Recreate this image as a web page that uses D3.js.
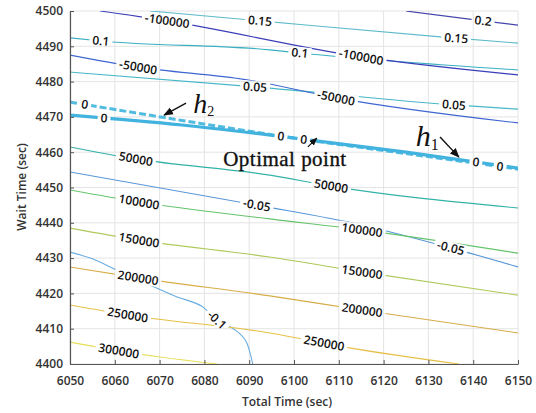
<!DOCTYPE html>
<html>
<head>
<meta charset="utf-8">
<script src="https://cdn.jsdelivr.net/npm/d3@7"></script>
<style>
body { margin: 0; background: #fff; }
</style>
</head>
<body>
<svg id="chart" width="536" height="413"></svg>
<script>
var xTicks = [6050, 6060, 6070, 6080, 6090, 6100, 6110, 6120, 6130, 6140, 6150];
var yTicks = [4400, 4410, 4420, 4430, 4440, 4450, 4460, 4470, 4480, 4490, 4500];

// h1 contours (wait time constraint)
var h1Levels = ["-100000", "-50000", "0", "50000", "100000", "150000", "200000", "250000", "300000"];
var h1Lines = [
  [[6056.7, 4500], [6071.7, 4497.2], [6115.0, 4487.0], [6150, 4481.9]],
  [[6050, 4487.5], [6065.2, 4484.1], [6089.5, 4480.5], [6109.4, 4475.4], [6150, 4468.3]],
  [[6050, 4470.5], [6075, 4467.7], [6097, 4464.5], [6125, 4460.0], [6150, 4455.5]],
  [[6050, 4461.5], [6064.7, 4458.1], [6094.6, 4453.5], [6108.3, 4450.4], [6150, 4444.2]],
  [[6050, 4449.3], [6065.4, 4445.9], [6094.6, 4441.1], [6115.0, 4438.0], [6150, 4431.4]],
  [[6050, 4438.5], [6065.4, 4435.1], [6094.6, 4430.3], [6115.0, 4426.1], [6150, 4419.5]],
  [[6050, 4427.5], [6065.2, 4424.4], [6094.6, 4419.3], [6115.0, 4415.3], [6150, 4408.8]],
  [[6050, 4416.7], [6062.9, 4413.9], [6094.6, 4408.8], [6112.7, 4404.5], [6136.8, 4400]],
  [[6050, 4406.2], [6060.9, 4403.7], [6082.8, 4400]]
];
var h1LabelX = [[6071.7, 6115.0], [6065.2, 6109.4], [6057.6, 6097.1, 6140.6], [6064.7, 6108.3],
  [6065.4, 6115.2], [6065.4, 6115.2], [6065.2, 6115.2], [6062.9, 6106.7], [6060.9]];

// h2 contours
var h2Levels = ["0.2", "0.15", "0.1", "0.05", "0", "-0.05", "-0.1"];
var h2Lines = [
  [[6125, 4500], [6142.2, 4497.2], [6150, 4496.0]],
  [[6067.9, 4500], [6092.4, 4497.2], [6133.3, 4492.6], [6150, 4490.9]],
  [[6050, 4492.4], [6056.9, 4491.5], [6094.6, 4489.0], [6101.3, 4488.1], [6150, 4483.3]],
  [[6050, 4482.7], [6091.3, 4478.5], [6135.7, 4473.4], [6150, 4472.2]],
  [[6050, 4474.2], [6075, 4469.0], [6100, 4464.0], [6125, 4459.6], [6150, 4455.2]],
  [[6050, 4454.4], [6091.7, 4445.0], [6115.0, 4439.4], [6135.0, 4432.9], [6150, 4427.5]],
  [[6050, 4431.7], [6054.5, 4430.0], [6060.5, 4426.6], [6073.9, 4419.0], [6079.7, 4416.1],
   [6082.8, 4412.5], [6086.2, 4410.2], [6089.5, 4405.9], [6090.8, 4400]]
];
var h2LabelX = [[6142.2], [6092.4, 6136.2], [6056.9, 6101.3], [6091.3, 6135.7],
  [6053.3, 6102.2, 6146.0], [6091.7, 6135.0], [6082.8]];

var h1Colors = ["#3a3db8", "#3e66d0", "#42b2de", "#33b2a8", "#66c46c", "#afc95a", "#d8ad48", "#e6c046", "#e6df58"];
var h2Colors = ["#4444aa", "#5ebbcb", "#3aafc2", "#46b7c8", "#52bce0", "#5796d8", "#68ade2"];

var svg = d3.select("#chart");
var x = d3.scaleLinear().domain([6050, 6150]).range([70, 518]);
var y = d3.scaleLinear().domain([4400, 4500]).range([364, 11]);

var defs = svg.append("defs");
defs.append("clipPath").attr("id", "plot")
  .append("rect").attr("x", x(6050)).attr("y", y(4500))
  .attr("width", x(6150) - x(6050)).attr("height", y(4400) - y(4500));

defs.append("marker").attr("id", "arr")
  .attr("viewBox", "0 0 10 10").attr("refX", 9).attr("refY", 5)
  .attr("markerWidth", 7).attr("markerHeight", 7).attr("orient", "auto")
  .append("path").attr("d", "M0,1 L10,5 L0,9 Z").attr("fill", "#111");

var mask = defs.append("mask").attr("id", "gaps").attr("maskUnits", "userSpaceOnUse")
  .attr("x", 0).attr("y", 0).attr("width", 536).attr("height", 413);
mask.append("rect").attr("width", 536).attr("height", 413).attr("fill", "#fff");

// grid
svg.append("g").selectAll("line").data(xTicks).join("line")
  .attr("x1", d => x(d)).attr("x2", d => x(d))
  .attr("y1", y(4400)).attr("y2", y(4500))
  .attr("stroke", "#e4e4e4").attr("stroke-width", 1);
svg.append("g").selectAll("line").data(yTicks).join("line")
  .attr("x1", x(6050)).attr("x2", x(6150))
  .attr("y1", d => y(d)).attr("y2", d => y(d))
  .attr("stroke", "#e4e4e4").attr("stroke-width", 1);

var line = d3.line().x(d => x(d[0])).y(d => y(d[1])).curve(d3.curveMonotoneX);

var contours = svg.append("g").attr("clip-path", "url(#plot)")
  .append("g").attr("mask", "url(#gaps)");

h2Lines.forEach(function(pts, i) {
  var p = contours.append("path").attr("d", line(pts)).attr("fill", "none")
    .attr("stroke", h2Colors[i]).attr("stroke-width", 1.1);
  if (h2Levels[i] === "0") p.attr("stroke-width", 3).attr("stroke-dasharray", "7,3");
});
h1Lines.forEach(function(pts, i) {
  var p = contours.append("path").attr("d", line(pts)).attr("fill", "none")
    .attr("stroke", h1Colors[i]).attr("stroke-width", 1.1);
  if (h1Levels[i] === "0") p.attr("stroke-width", 3.2);
});

// contour labels
function placeOn(pts, xv) {
  for (var k = 0; k < pts.length - 1; k++) {
    var a = pts[k], b = pts[k + 1];
    if (xv >= a[0] && xv <= b[0]) {
      var t = (xv - a[0]) / (b[0] - a[0]);
      var yv = a[1] + t * (b[1] - a[1]);
      var ang = Math.atan2(y(b[1]) - y(a[1]), x(b[0]) - x(a[0])) * 180 / Math.PI;
      return [x(xv), y(yv), ang];
    }
  }
  var e = pts[pts.length - 1];
  return [x(e[0]), y(e[1]), 0];
}

var labelG = svg.append("g");
function addLabels(lines, levels, labelX) {
  lines.forEach(function(pts, i) {
    labelX[i].forEach(function(xv) {
      var p = placeOn(pts, xv);
      var tr = "translate(" + p[0] + "," + p[1] + ") rotate(" + p[2] + ")";
      var t = labelG.append("text").attr("transform", tr)
        .attr("text-anchor", "middle").attr("dy", "0.35em")
        .style("font-family", "'Open Sans', sans-serif").style("font-size", "12px")
        .style("font-weight", 600).attr("fill", "#111").text(levels[i]);
      var w = t.node().getComputedTextLength() + 6;
      mask.append("rect").attr("transform", tr)
        .attr("x", -w / 2).attr("y", -6).attr("width", w).attr("height", 12).attr("fill", "#000");
    });
  });
}
addLabels(h1Lines, h1Levels, h1LabelX);
addLabels(h2Lines, h2Levels, h2LabelX);

// axes
var xAxis = svg.append("g").attr("transform", "translate(0," + y(4400) + ")")
  .call(d3.axisBottom(x).tickValues(xTicks).tickFormat(d3.format("d"))
    .tickSize(-4).tickSizeOuter(0).tickPadding(12));
var yAxis = svg.append("g").attr("transform", "translate(" + x(6050) + ",0)")
  .call(d3.axisLeft(y).tickValues(yTicks).tickFormat(d3.format("d"))
    .tickSize(-4).tickSizeOuter(0).tickPadding(7));
[xAxis, yAxis].forEach(function(g) {
  g.select(".domain").attr("stroke", "#555").attr("stroke-width", 1.2);
  g.selectAll(".tick line").attr("stroke", "#555");
  g.selectAll(".tick text").attr("fill", "#333")
    .style("font-family", "'Open Sans', sans-serif").style("font-size", "12px").style("font-weight", 600);
});

svg.append("text").attr("x", 287).attr("y", 406).attr("text-anchor", "middle")
  .style("font-family", "'Open Sans', sans-serif").style("font-size", "12px").style("font-weight", 600)
  .attr("fill", "#333").text("Total Time (sec)");
svg.append("text").attr("transform", "translate(26,187) rotate(-90)").attr("text-anchor", "middle")
  .style("font-family", "'Open Sans', sans-serif").style("font-size", "12px").style("font-weight", 600)
  .attr("fill", "#333").text("Wait Time (sec)");

// annotations
var serif = "'Liberation Serif', 'Times New Roman', serif";
svg.append("text").attr("x", x(6084.2)).attr("y", y(4456.1))
  .style("font-family", serif).style("font-size", "21px").attr("fill", "#111")
  .attr("stroke", "#111").attr("stroke-width", 0.35)
  .attr("textLength", 123).attr("lengthAdjust", "spacing").text("Optimal point");
svg.append("line").attr("x1", x(6103.1)).attr("y1", y(4461.5)).attr("x2", x(6105.1)).attr("y2", y(4464.0))
  .attr("stroke", "#111").attr("stroke-width", 1.2).attr("marker-end", "url(#arr)");

var h1t = svg.append("text").attr("x", x(6127.2)).attr("y", y(4461.8))
  .style("font-family", serif).attr("fill", "#111");
h1t.append("tspan").style("font-style", "italic").style("font-size", "30px").text("h");
h1t.append("tspan").style("font-size", "16px").attr("dy", 4).text("1");
svg.append("line").attr("x1", x(6132.6)).attr("y1", y(4464.3)).attr("x2", x(6136.8)).attr("y2", y(4458.6))
  .attr("stroke", "#111").attr("stroke-width", 1.4).attr("marker-end", "url(#arr)");

var h2t = svg.append("text").attr("x", x(6077.5)).attr("y", y(4471.1))
  .style("font-family", serif).attr("fill", "#111");
h2t.append("tspan").style("font-style", "italic").style("font-size", "28px").text("h");
h2t.append("tspan").style("font-size", "14px").attr("dy", 3).text("2");
svg.append("line").attr("x1", x(6075.9)).attr("y1", y(4473.9)).attr("x2", x(6071.0)).attr("y2", y(4470.5))
  .attr("stroke", "#111").attr("stroke-width", 1.4).attr("marker-end", "url(#arr)");
</script>
</body>
</html>
